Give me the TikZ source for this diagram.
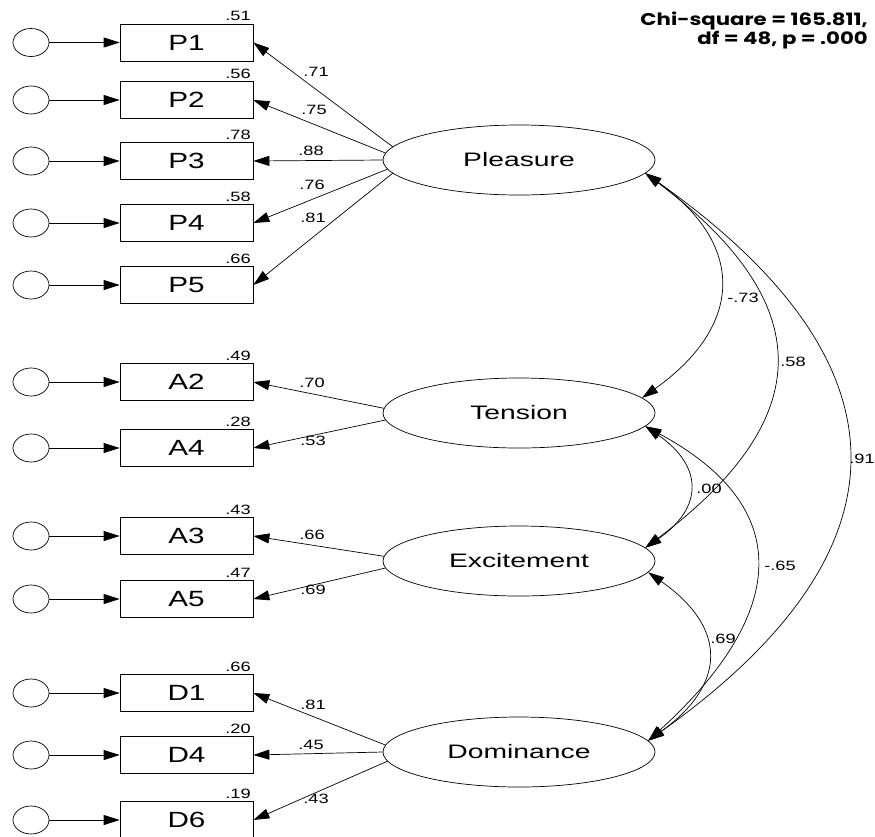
\documentclass[tikz,border=0pt]{standalone}
\usepackage{fontspec}
\usepackage{graphicx}
\setmainfont{Liberation Sans}
\newfontfamily\gothicfont{Poppins}
\usetikzlibrary{arrows.meta,shapes.geometric}

% wide lettering used throughout the path diagram
\newcommand{\wtx}[1]{\scalebox{1.35}[1]{#1}}
\newcommand{\wlat}[1]{\scalebox{1.45}[1]{#1}}

\tikzset{
  conn/.style={line width=0.7pt},
  onehead/.style={conn,-{Triangle[length=16pt,width=10pt]}},
  twohead/.style={conn,{Triangle[length=16pt,width=10pt]}-{Triangle[length=16pt,width=10pt]}},
  indbox/.style={draw,line width=0.7pt,rectangle,minimum width=133pt,minimum height=37pt,inner sep=0pt,
    font=\fontsize{22}{22}\selectfont},
  latent/.style={draw,line width=0.7pt,ellipse,minimum width=272pt,minimum height=70pt,inner sep=0pt,
    font=\fontsize{19.5}{20}\selectfont},
  errc/.style={draw,line width=0.7pt,ellipse,minimum width=36pt,minimum height=28pt,inner sep=0pt},
  rsq/.style={anchor=south east,inner sep=2.5pt,font=\fontsize{13.5}{14}\selectfont},
  lbl/.style={inner sep=0pt,font=\fontsize{13.5}{14}\selectfont},
}

\begin{document}
\begin{tikzpicture}[x=1pt,y=-1pt]
\useasboundingbox (0,0) rectangle (875,836);

% fit statistics
\node[anchor=north east,align=right,inner sep=0pt,font=\gothicfont\bfseries\fontsize{17}{17}\selectfont]
  (fit) at (868,12) {\scalebox{1.25}[1]{Chi-square = 165.811,}\\\scalebox{1.25}[1]{df = 48, p = .000}};

% latent factors
\node[latent] (pl) at (519,160) {\wlat{Pleasure}};
\node[latent] (te) at (519,413) {\wlat{Tension}};
\node[latent] (ex) at (519,561) {\wlat{Excitement}};
\node[latent] (do) at (519,752) {\wlat{Dominance}};

% error terms
\foreach \nm/\yy in {p1/42.5, p2/100, p3/161, p4/223, p5/285,
                     a2/382, a4/448, a3/536, a5/599,
                     d1/693, d4/755, d6/820}{
  \node[errc] (e\nm) at (31,\yy) {};
}

% indicators
\node[indbox] (p1) at (186.5,42.5) {\wtx{P1}};
\node[indbox] (p2) at (186.5,100) {\wtx{P2}};
\node[indbox] (p3) at (186.5,161) {\wtx{P3}};
\node[indbox] (p4) at (186.5,223) {\wtx{P4}};
\node[indbox] (p5) at (186.5,285) {\wtx{P5}};
\node[indbox] (a2) at (186.5,382) {\wtx{A2}};
\node[indbox] (a4) at (186.5,448) {\wtx{A4}};
\node[indbox] (a3) at (186.5,536) {\wtx{A3}};
\node[indbox] (a5) at (186.5,599) {\wtx{A5}};
\node[indbox] (d1) at (186.5,693) {\wtx{D1}};
\node[indbox] (d4) at (186.5,755) {\wtx{D4}};
\node[indbox] (d6) at (186.5,820) {\wtx{D6}};

% squared multiple correlations and error paths
\foreach \nm/\rr in {p1/.51, p2/.56, p3/.78, p4/.58, p5/.66, a2/.49, a4/.28,
                     a3/.43, a5/.47, d1/.66, d4/.20, d6/.19}{
  \node[rsq] (r\nm) at (\nm.north east) {\wtx{\rr}};
  \draw[onehead] (e\nm) -- (\nm.west);
}

% factor loadings
\draw[onehead] (pl.174) -- (p1.east);
\draw[onehead] (pl.177) -- (p2.east);
\draw[onehead] (pl.180) -- (p3.east);
\draw[onehead] (pl.184) -- (p4.east);
\draw[onehead] (pl.186) -- (p5.east);
\draw[onehead] (te.178) -- (a2.east);
\draw[onehead] (te.183) -- (a4.east);
\draw[onehead] (ex.178) -- (a3.east);
\draw[onehead] (ex.183) -- (a5.east);
\draw[onehead] (do.177) -- (d1.east);
\draw[onehead] (do.180) -- (d4.east);
\draw[onehead] (do.184) -- (d6.east);

\node[lbl] (lp1) at (316,72) {\wtx{.71}};
\node[lbl] (lp2) at (314,110) {\wtx{.75}};
\node[lbl] (lp3) at (311,151) {\wtx{.88}};
\node[lbl] (lp4) at (312,185) {\wtx{.76}};
\node[lbl] (lp5) at (313,218) {\wtx{.81}};
\node[lbl] (la2) at (312,383) {\wtx{.70}};
\node[lbl] (la4) at (313,441) {\wtx{.53}};
\node[lbl] (la3) at (312,535) {\wtx{.66}};
\node[lbl] (la5) at (313,590) {\wtx{.69}};
\node[lbl] (ld1) at (313,705) {\wtx{.81}};
\node[lbl] (ld4) at (311,745) {\wtx{.45}};
\node[lbl] (ld6) at (316,799) {\wtx{.43}};

% factor correlations
\draw[twohead] (pl.-6) .. controls +(101,72) and +(101,-72) .. (te.7);
\draw[twohead] (pl.-6) .. controls +(173,130) and +(173,-130) .. (ex.6);
\draw[twohead] (pl.-6) .. controls +(269,190) and +(267,-190) .. (do.5);
\draw[twohead] (te.-6) .. controls +(58,40) and +(58,-40) .. (ex.6);
\draw[twohead] (te.-6) .. controls +(158,85) and +(132,-120) .. (do.5);
\draw[twohead] (ex.-5) .. controls +(80,56) and +(78,-56) .. (do.5);

\node[lbl] (cpt) at (743,298) {\wtx{-.73}};
\node[lbl] (cpe) at (793,362) {\wtx{.58}};
\node[lbl] (cpd) at (862,459) {\wtx{.91}};
\node[lbl] (cte) at (709,489) {\wtx{.00}};
\node[lbl] (ctd) at (780,566) {\wtx{-.65}};
\node[lbl] (ced) at (723,639) {\wtx{.69}};
\end{tikzpicture}
\end{document}
